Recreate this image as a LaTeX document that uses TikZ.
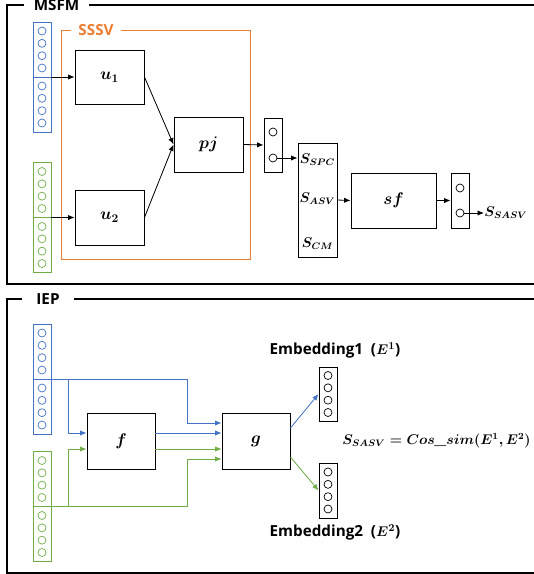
\documentclass[tikz,border=0pt]{standalone}
\usepackage{amsmath}
\usepackage{fontspec}
\setsansfont{Open Sans}
\usepackage{tikz}
\usetikzlibrary{arrows.meta}

\definecolor{blueN}{HTML}{4472C4}
\definecolor{greenN}{HTML}{70AD47}
\definecolor{orangeN}{HTML}{ED7D31}

\tikzset{
  box/.style={draw, line width=0.8pt, font=\Large},
  vec/.style={draw, line width=0.8pt, minimum width=0.54cm, inner sep=0pt},
  dot/.style={circle, draw, line width=0.6pt, minimum size=0.24cm, inner sep=0pt},
  frame/.style={line width=1.6pt},
  title/.style={fill=white, inner xsep=8pt, font=\sffamily\bfseries\fontsize{13}{15}\selectfont},
  caption/.style={font=\sffamily\bfseries\fontsize{13}{15}\selectfont}
}

\begin{document}
\begin{tikzpicture}[x=0.03cm, y=-0.03cm, >={Latex[length=5.5pt, width=4.5pt]}, line width=0.7pt]
    \useasboundingbox (0,0) rectangle (534,574);

    \draw[frame] (545,5) -- (7,5) -- (7,284) -- (545,284);
    \node[title]  (MSFM)  at (56.5,5)    {MSFM};
    \draw[frame] (545,299) -- (7,299) -- (7,573) -- (545,573);
    \node[title, inner xsep=12pt]  (IEP)   at (48,299)  {IEP};

    \draw[orangeN, line width=0.8pt] (61,30) rectangle (250,259);
    \node[title, inner xsep=6pt, text=orangeN]  (SSSV)  at (96,30)  {SSSV};

    \node[vec, blueN,  minimum height=3.3cm]  (in1)  at (42,77)     {};
    \node[vec, greenN, minimum height=3.3cm]  (in2)  at (42,217.5)  {};
    \node[vec, blueN,  minimum height=3.3cm]  (in3)  at (42,379)    {};
    \node[vec, greenN, minimum height=3.3cm]  (in4)  at (42,506.5)  {};
    \foreach \v/\c in {in1/blueN, in2/greenN, in3/blueN, in4/greenN} {
        \draw[\c] (\v.west) -- (\v.east);
        \foreach \d in {0.27, 0.64, 1.01, 1.38} {
            \draw[\c, line width=0.6pt] ([yshift=\d cm]\v.center) circle (0.12cm);
            \draw[\c, line width=0.6pt] ([yshift=-\d cm]\v.center) circle (0.12cm);
        }
    }

    \node[box, minimum width=2.07cm, minimum height=1.62cm]  (u1)  at (109.5,77)     {$\boldsymbol{u_1}$};
    \node[box, minimum width=2.07cm, minimum height=1.65cm]  (u2)  at (109.5,217.5)  {$\boldsymbol{u_2}$};
    \node[box, minimum width=2.07cm, minimum height=1.65cm]  (pj)  at (208.5,144.5)  {$\boldsymbol{pj}$};

    \node[vec, minimum height=1.62cm]  (v1)   at (273,145)  {};
    \node[dot]                         (v1a)  at (273,132)  {};
    \node[dot]                         (v1b)  at (273,158)  {};

    \node[box, minimum width=1.17cm, minimum height=3.42cm]  (S)  at (317.5,200)  {};
    \node[font=\large]  (spc)  at (317.5,160)  {$\boldsymbol{S_{SPC}}$};
    \node[font=\large]  (asv)  at (317.5,199)  {$\boldsymbol{S_{ASV}}$};
    \node[font=\large]  (scm)  at (317.5,244)  {$\boldsymbol{S_{CM}}$};

    \node[box, minimum width=2.55cm, minimum height=1.65cm]  (sf)  at (393.5,200.5)  {$\boldsymbol{sf}$};

    \node[vec, minimum height=1.65cm]  (v2)   at (460,200.5)  {};
    \node[dot]                         (v2a)  at (460,188)    {};
    \node[dot]                         (v2b)  at (460,213)    {};
    \node[anchor=west, inner sep=0pt, font=\large]  (sasv)  at (484,213)  {$\boldsymbol{S_{SASV}}$};

    \draw[->] (in1.east) -- (u1.west);
    \draw[->] (in2.east) -- (u2.west);
    \draw[->] (u1.east) -- (pj.west);
    \draw[->] (u2.east) -- (pj.west);
    \draw[->] (pj.east) -- (v1.west);
    \draw[->] (v1b.east) -- (v1b -| S.west);
    \draw[->] (S.east) -- (sf.west);
    \draw[->] (sf.east) -- (v2.west);
    \draw[->] (v2b.east) -- (sasv.west);

    \node[box, minimum width=2.04cm, minimum height=1.68cm]  (f)  at (121,441)  {$\boldsymbol{f}$};
    \node[box, minimum width=2.04cm, minimum height=1.68cm]  (g)  at (256,441)  {$\boldsymbol{g}$};

    \node[vec, minimum height=1.62cm]  (e1)  at (328,394)    {};
    \node[vec, minimum height=1.65cm]  (e2)  at (328,490.5)  {};
    \foreach \e in {e1, e2} {
        \foreach \d in {-0.555, -0.185, 0.185, 0.555} {
            \draw[line width=0.6pt] ([yshift=\d cm]\e.center) circle (0.12cm);
        }
    }

    \node[caption]  (emb1)  at (335,350)  {Embedding1 \ ($\boldsymbol{E^1}$)};
    \node[caption]  (emb2)  at (335,532)  {Embedding2 \ ($\boldsymbol{E^2}$)};
    \node[anchor=west, inner sep=0pt, font=\fontsize{11.5}{14}\selectfont]  (simeq)  at (342,441)  {$\boldsymbol{S_{SASV} = Cos}\textbf{\textit{\textunderscore}}\boldsymbol{sim(E^1, E^2)}$};

    \coordinate (bj) at (187,379);
    \coordinate (bk) at (68,379);
    \coordinate (gj) at (187,506.5);
    \coordinate (gk) at (68,506.5);

    \draw[blueN, ->] (in3.east) -- (bj) |- ([yshift=0.54cm]g.west);
    \draw[blueN, ->] (bk) |- ([yshift=0.24cm]f.west);
    \draw[blueN, ->] ([yshift=0.24cm]f.east) -- ([yshift=0.24cm]g.west);
    \draw[greenN, ->] (in4.east) -- (gj) |- ([yshift=-0.54cm]g.west);
    \draw[greenN, ->] (gk) |- ([yshift=-0.24cm]f.west);
    \draw[greenN, ->] ([yshift=-0.24cm]f.east) -- ([yshift=-0.24cm]g.west);

    \draw[blueN, ->] ([yshift=0.39cm]g.east) -- (e1.west);
    \draw[greenN, ->] ([yshift=-0.48cm]g.east) -- (e2.west);
\end{tikzpicture}
\end{document}
